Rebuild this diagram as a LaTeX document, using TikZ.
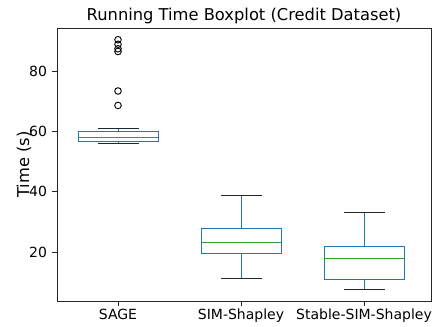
\documentclass[tikz,border=0pt]{standalone}
\usepackage{fontspec}
\setmainfont{DejaVu Sans}
\definecolor{boxblue}{HTML}{1F77B4}
\definecolor{medgreen}{HTML}{2CA02C}
\newcommand\onebox[6]{%
  \draw[whisk] (#1,#2) -- (#1,#3);
  \draw[whisk] (#1,#5) -- (#1,#6);
  \draw[capline] (#1-\c,#2) -- (#1+\c,#2);
  \draw[capline] (#1-\c,#6) -- (#1+\c,#6);
  \draw[boxline] (#1-\w,#3) rectangle (#1+\w,#5);
  \draw[medline] (#1-\w,#4) -- (#1+\w,#4);
}
\begin{document}
\begin{tikzpicture}[x=1pt,y=1pt,
  boxline/.style={draw=boxblue,line width=1pt},
  whisk/.style={draw=boxblue,line width=1pt},
  capline/.style={draw=black!85,line width=1pt},
  medline/.style={draw=medgreen,line width=1pt},
  flier/.style={draw=black,line width=0.9pt},
  tick/.style={draw=black!85,line width=0.9pt},
  ticklab/.style={font=\fontsize{14}{16}\selectfont,inner sep=0pt},
  axlab/.style={font=\fontsize{16.3}{18}\selectfont,inner sep=0pt}]
\useasboundingbox (0,0) rectangle (438,326);
\def\w{40}
\def\c{20.5}
\begin{scope}[yshift=13.7pt,y=3.015pt]
\onebox{118}{55.9}{56.6}{57.9}{60.1}{61.1}
\onebox{241}{11.1}{19.4}{23.2}{27.9}{38.7}
\onebox{364}{7.5}{10.9}{17.7}{21.8}{33.0}
\foreach \v in {68.6,73.4,86.5,87.4,88.9,90.4}
  \draw[flier] (118,\v) circle (3.3pt);
\foreach \v in {20,40,60,80} {
  \draw[tick] (57,\v) -- ++(-4.9pt,0);
  \node[ticklab,anchor=east] (y\v) at (47.2,\v) {\v};
}
\end{scope}
\draw[tick] (57,25) rectangle (431,298);
\draw[tick] (118,25) -- ++(0,-4.9);
\draw[tick] (241,25) -- ++(0,-4.9);
\draw[tick] (364,25) -- ++(0,-4.9);
\node[ticklab,anchor=base] (xsage) at (118,6.5) {SAGE};
\node[ticklab,anchor=base] (xsim) at (241,6.5) {SIM-Shapley};
\node[ticklab,anchor=base] (xstable) at (364,6.5) {Stable-SIM-Shapley};
\node[axlab,rotate=90,anchor=base] (ylab) at (29,161.5) {Time (s)};
\node[axlab,anchor=base] (title) at (244,305.5) {Running Time Boxplot (Credit Dataset)};
\end{tikzpicture}
\end{document}
